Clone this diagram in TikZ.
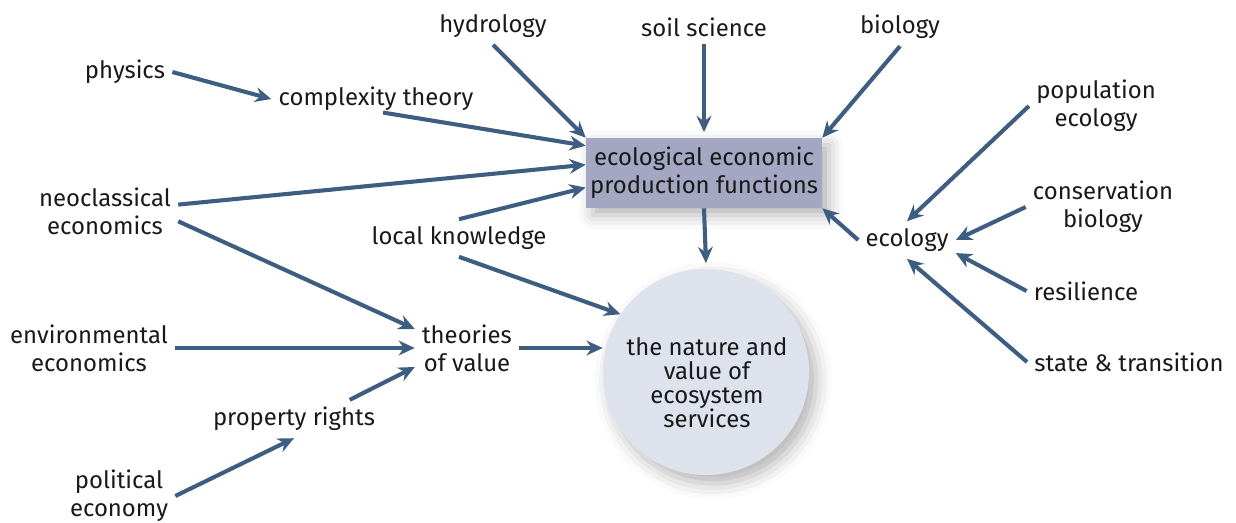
\documentclass[tikz,border=0pt]{standalone}
\usepackage{fontspec}
\setmainfont{Fira Sans}
\usetikzlibrary{arrows.meta,shadows.blur}

\definecolor{linkblue}{RGB}{61,94,128}
\definecolor{boxfill}{RGB}{163,167,194}
\definecolor{hubfill}{RGB}{221,226,236}

\begin{document}
\begin{tikzpicture}[
        x=0.025cm, y=-0.025cm,
        >={Stealth[length=11.5pt,width=10.5pt]},
        % style for the plain text labels
        lbl/.style={align=center, font=\fontsize{17}{20}\selectfont, text=black!90, inner sep=5pt},
        % style for the arrows
        link/.style={->, line width=2.9pt, draw=linkblue},
        % the grey box and the round hub
        prodbox/.style={rectangle, fill=boxfill, minimum width=5.9cm, minimum height=1.75cm,
            blur shadow={shadow xshift=5pt, shadow yshift=-5pt, shadow blur radius=10pt, shadow opacity=30}},
        hub/.style={circle, fill=hubfill, minimum size=5.15cm, inner sep=0pt,
            blur shadow={shadow xshift=5pt, shadow yshift=-6pt, shadow blur radius=11pt, shadow opacity=30}}
    ]
        \useasboundingbox (0,0) rectangle (1236,522);

        % 1. centre: box and circle
        \node[prodbox, lbl, inner sep=1pt] (eepf) at (704,173) {ecological economic\\production functions};
        \node[hub] (nature) at (706,372) {};
        \node[lbl, font=\fontsize{17}{17}\selectfont] (naturetxt) at (707,383) {the nature and\\value of\\ecosystem\\services};

        % 2. labels on the left
        \node[lbl] (physics) at (125,72) {physics};
        \node[lbl] (complexity) at (376,99) {complexity theory};
        \node[lbl] (neoclass) at (105,211) {neoclassical\\economics};
        \node[lbl] (localk) at (459,238) {local knowledge};
        \node[lbl] (theories) at (467,348) {theories\\of value};
        \node[lbl] (enveco) at (89,348) {environmental\\economics};
        \node[lbl] (property) at (294,419) {property rights};
        \node[lbl] (politeco) at (119,496) {political\\economy};

        % 3. labels on top and on the right
        \node[lbl] (hydrology) at (493,26) {hydrology};
        \node[lbl] (soil) at (704,27) {soil science};
        \node[lbl] (biology) at (900,27) {biology};
        \node[lbl] (popeco) at (1096,106) {population\\ecology};
        \node[lbl] (conbio) at (1103,207) {conservation\\biology};
        \node[lbl] (ecology) at (907,240) {ecology};
        \node[lbl] (resilience) at (1086,291) {resilience};
        \node[lbl] (statetr) at (1129,362) {state \& transition};

        % 4. arrows into the box
        \draw[link] (physics.east) -- (complexity.west);
        \draw[link] ([xshift=5pt,yshift=4pt]complexity.south) -- (eepf.167);
        \draw[link] (hydrology.south) -- (eepf.north west);
        \draw[link] (soil.south) -- ([yshift=4pt]eepf.north);
        \draw[link] (biology.south) -- (eepf.north east);
        \draw[link] (neoclass.5) -- (eepf.176);
        \draw[link] (localk.north) -- (eepf.187);
        \draw[link] (ecology.west) -- (eepf.south east);

        % 5. arrows into ecology
        \draw[link] (popeco.west) -- (ecology.north);
        \draw[link] (conbio.west) -- (ecology.east);
        \draw[link] (resilience.west) -- (ecology.-15);
        \draw[link] (statetr.west) -- (ecology.south);

        % 6. arrows into theories of value and the circle
        \draw[link] (neoclass.-8) -- (theories.160);
        \draw[link] (enveco.east) -- (theories.west);
        \draw[link] (property.19) -- (theories.200);
        \draw[link] (politeco.east) -- (property.south);
        \draw[link] (theories.east) -- (theories.east -| nature.west);
        \draw[link] (localk.south) -- (nature.146);
        \draw[link] (eepf.south) -- ([yshift=4pt]nature.north);

    \end{tikzpicture}
\end{document}
